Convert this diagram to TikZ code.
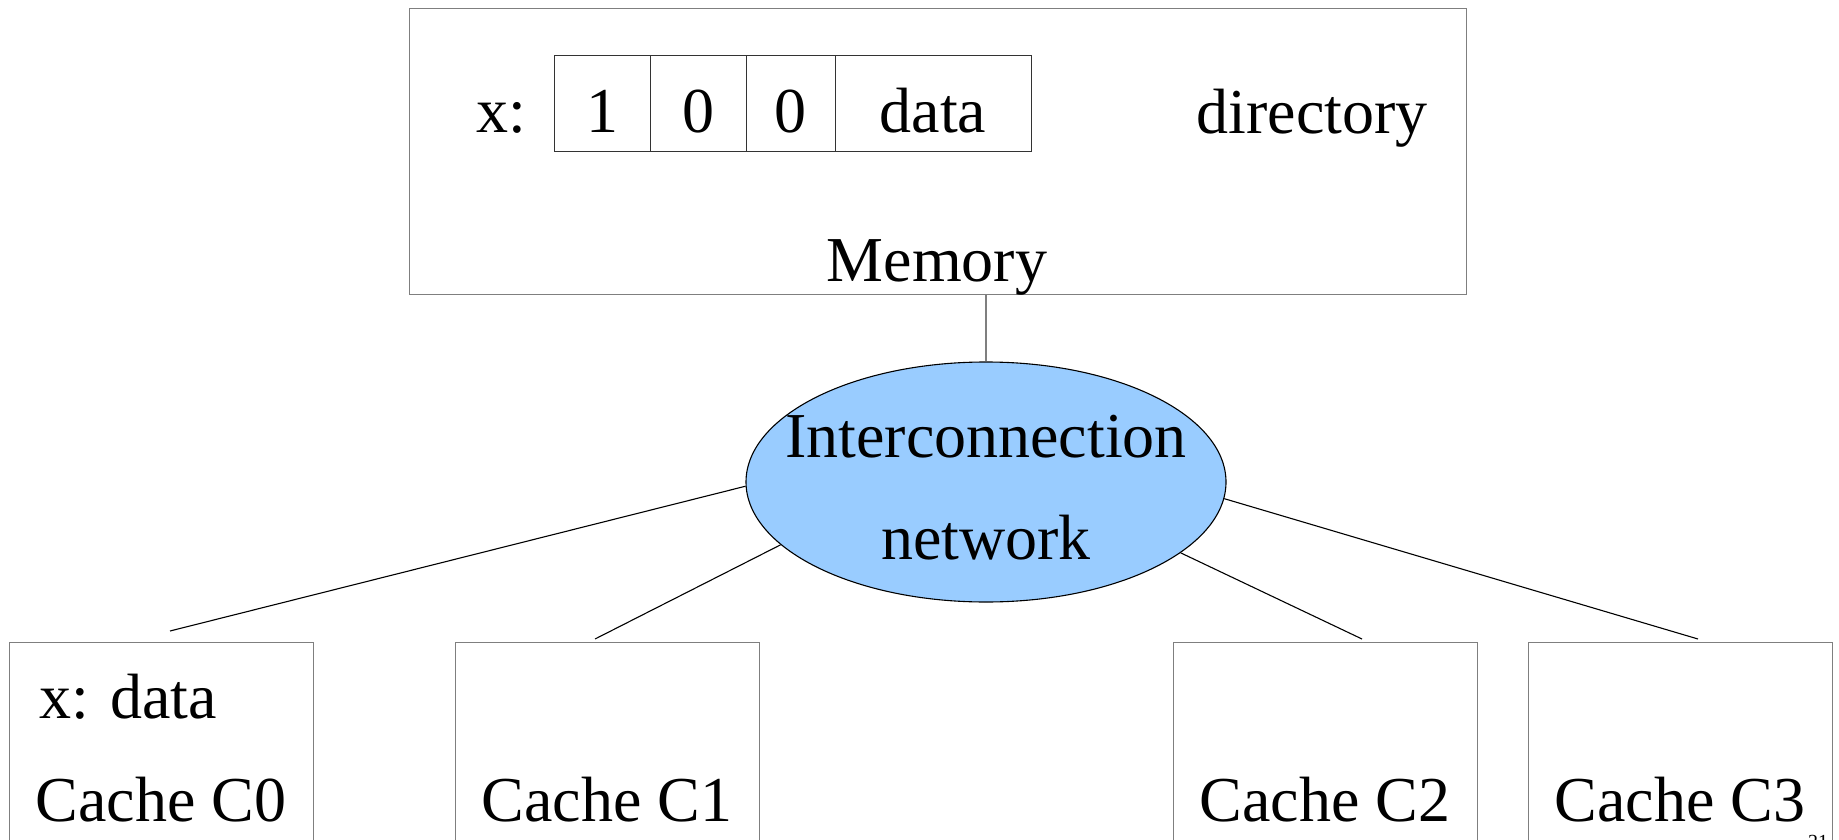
\documentclass[tikz,border=0pt]{standalone}
\usepackage{fontspec}
\setmainfont{Liberation Serif}
\usetikzlibrary{shapes.geometric}
\definecolor{netblue}{HTML}{99CCFF}
\definecolor{framegray}{HTML}{7F7F7F}
\tikzset{
  big/.style={font=\fontsize{64}{76}\selectfont, inner sep=0pt, anchor=base},
  frame/.style={draw=framegray, line width=1.3pt, inner sep=0pt, anchor=north west},
  cell/.style={draw=black!80, line width=1.1pt, inner sep=0pt, anchor=north west, minimum height=96pt},
  link/.style={draw=black, line width=1.1pt},
}
\begin{document}
\begin{tikzpicture}[x=1pt, y=-1pt]
\useasboundingbox (0,0) rectangle (1839,840);

% memory with its directory entry
\node[frame, minimum width=1057pt, minimum height=286pt] (mem) at (409,8) {};
\node[cell, minimum width=96pt] (b1) at (554,55) {};
\node[cell, minimum width=96pt] (b2) at (650,55) {};
\node[cell, minimum width=89pt] (b3) at (746,55) {};
\node[cell, minimum width=196pt] (bd) at (835,55) {};
\node[big] (xl) at (501,132) {x:};
\node[big] (v1) at (602,132) {1};
\node[big] (v2) at (698,132) {0};
\node[big] (v3) at (790,132) {0};
\node[big] (vd) at (933,132) {data};
\node[big] (dir) at (1312,134) {directory};
\node[big] (memlbl) at (937,281) {Memory};

% interconnection network
\node[ellipse, draw=black, line width=1.1pt, fill=netblue, minimum width=480pt, minimum height=240pt, inner sep=0pt] (net) at (986,482) {};
\node[big] (net1) at (986,457) {Interconnection};
\node[big] (net2) at (986,559) {network};
\draw[draw=framegray, line width=1.3pt] (net.north) -- (net.north |- mem.south);

% caches
\node[frame, minimum width=304pt, minimum height=260pt] (c0) at (9,642) {};
\node[frame, minimum width=304pt, minimum height=260pt] (c1) at (455,642) {};
\node[frame, minimum width=304pt, minimum height=260pt] (c2) at (1173,642) {};
\node[frame, minimum width=304pt, minimum height=260pt] (c3) at (1528,642) {};
\node[big, anchor=base west] (c0x) at (39,718) {x: data};
\node[big] (c0l) at (161,821) {Cache C0};
\node[big] (c1l) at (607,821) {Cache C1};
\node[big] (c2l) at (1325,821) {Cache C2};
\node[big] (c3l) at (1680,821) {Cache C3};

% links from the network to the caches
\coordinate (t0) at (170,631);
\coordinate (t1) at (595,639);
\coordinate (t2) at (1362,639);
\coordinate (t3) at (1698,639);
\draw[link] (net.181.4) -- (t0);
\draw[link] (net.197.2) -- (t1);
\draw[link] (net.340.2) -- (t2);
\draw[link] (net.356.4) -- (t3);

% page number
\node[font=\fontsize{20}{24}\selectfont, inner sep=0pt, anchor=base] (pg) at (1818,848) {21};
\end{tikzpicture}
\end{document}
